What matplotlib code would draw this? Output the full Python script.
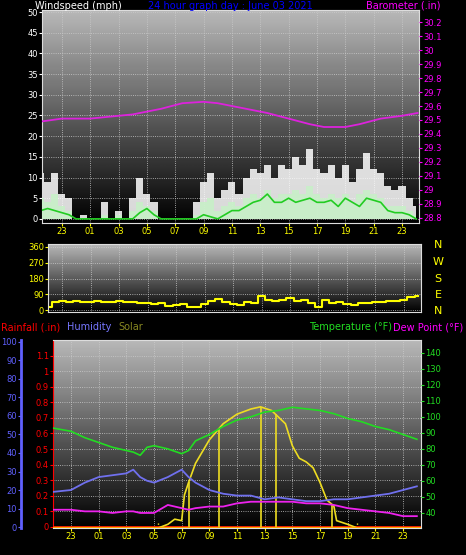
import numpy as np
from matplotlib import pyplot as plt

# wind, half-hourly from -2.5h (22:30 previous day) to 24h
wind_t = np.arange(-2.5, 24.01, 0.5)
gust = [11, 9, 11, 6, 5, 0, 1, 0, 0, 4, 0, 2, 0, 5, 10, 6, 4, 0, 0, 0, 0, 0, 4, 9, 11, 5, 7,
        9, 6, 10, 12, 11, 13, 10, 13, 12, 15, 13, 17, 12, 11, 13, 10, 13, 9, 12, 16, 12, 11,
        8, 7, 8, 5, 3]
speed = [5, 4, 6, 3, 2, 0, 0, 0, 0, 1, 0, 1, 0, 2, 4, 3, 2, 0, 0, 0, 0, 0, 1, 4, 5, 2, 3,
         4, 3, 5, 6, 5, 7, 5, 6, 6, 7, 6, 8, 6, 5, 6, 5, 6, 4, 6, 7, 6, 5, 3, 3, 3, 2, 1]
avg = [2, 2.5, 2, 1.5, 1, 0, 0, 0, 0, 0, 0, 0, 0, 0, 1.5, 2.5, 1, 0, 0, 0, 0, 0, 0, 1, 0.5, 0,
       1, 2, 2, 3, 4, 4.5, 6, 4, 4, 5, 4, 4.5, 5, 4, 4, 4.5, 3, 5, 4, 3, 5, 4.5, 4, 2, 1.5,
       1.5, 1, 0]

baro_t = [-2.4, -1, 1, 3, 4, 6, 7.5, 9, 10, 12, 13.5, 15, 16.5, 17.5, 19, 20, 21.5, 23, 24.1]
baro = [29.49, 29.51, 29.51, 29.53, 29.54, 29.58, 29.62, 29.63, 29.62, 29.58, 29.55, 29.51,
        29.47, 29.45, 29.45, 29.47, 29.51, 29.53, 29.55]

dir_t = np.arange(-2.0, 24.01, 0.5)
wdir = [20, 45, 50, 45, 50, 45, 45, 50, 45, 45, 50, 45, 45, 40, 40, 35, 40, 25, 30, 35, 20,
        20, 35, 50, 65, 45, 35, 30, 45, 40, 80, 60, 50, 55, 70, 50, 60, 40, 20, 55, 40, 45, 35,
        30, 40, 40, 45, 45, 50, 50, 55, 75, 80]

temp_t = [-2.3, -1, 0, 1, 2, 3, 3.5, 4, 4.5, 5, 6, 7, 7.5, 8, 9, 10, 11, 12, 13, 14, 15, 16,
          17, 18, 19, 20, 21, 22, 23, 24]
temp = [93, 91, 87, 84, 81, 79, 78, 76, 81, 82, 80, 77, 79, 85, 89, 94, 98, 100, 103, 104,
        106, 105, 104, 102, 99, 97, 94, 92, 89, 86]
hum = [19, 20, 24, 27, 28, 29, 31, 27, 25, 24, 27, 31, 27, 24, 20, 18, 17, 17, 15, 16, 15,
       14, 14, 15, 15, 16, 17, 18, 20, 22]
dew = [42, 42, 41, 41, 40, 41, 41, 40, 40, 40, 45, 43, 42, 43, 44, 44, 46, 47, 47, 47, 47,
       46, 46, 45, 43, 42, 41, 40, 38, 38]

solar_t = [5.3, 6, 6.5, 7, 7.2, 7.5, 8, 9, 10, 11, 12, 12.7, 13.5, 14.5, 15, 15.5, 16, 16.5,
           17, 17.5, 18, 18.2, 19, 19.7]
solar = [0, 25, 60, 50, 225, 310, 440, 600, 710, 775, 810, 825, 800, 710, 560, 475, 450, 410,
         310, 190, 150, 50, 25, 0]
solar_marks = [7.5, 9.7, 12.7, 13.8, 17.9]

hour_ticks = list(range(-1, 24, 2))
hour_labels = ['%02d' % (h % 24) for h in hour_ticks]

W, H = 466, 555
fig = plt.figure(figsize=(W / 100, H / 100), dpi=100, facecolor='black')


def box(x0, y0, x1, y1):
    return [x0 / W, 1 - y1 / H, (x1 - x0) / W, (y1 - y0) / H]


grad = np.linspace(0, 0.72, 100).reshape(-1, 1)


def setup(ax):
    ax.imshow(grad, extent=[0, 1, 0, 1], transform=ax.transAxes, aspect='auto',
              cmap='gray', vmin=0, vmax=1, origin='lower', zorder=0)
    ax.grid(True, color='#cccccc', linestyle=':', linewidth=0.6)
    for s in ax.spines.values():
        s.set_color('#dddddd')
    ax.tick_params(labelsize=6, length=2, pad=1)


# top panel
ax1 = fig.add_axes(box(42, 10, 419, 223))
setup(ax1)
ax1.fill_between(wind_t, gust, step='mid', color='white', alpha=0.85, lw=0, zorder=2)
ax1.fill_between(wind_t, speed, step='mid', color='#c8f0c8', alpha=0.9, lw=0, zorder=3)
ax1.plot(wind_t, avg, color='#22cc22', lw=1.2, zorder=4)
ax1.set_xlim(-2.4, 24.2)
ax1.set_ylim(-1, 50.5)
ax1.set_yticks(range(0, 51, 5))
ax1.set_xticks(hour_ticks)
ax1.set_xticklabels(hour_labels)
ax1.tick_params(axis='x', colors='yellow')
ax1.tick_params(axis='y', colors='white')
axb = ax1.twinx()
axb.plot(baro_t, baro, color='#dd22dd', lw=1.3)
axb.set_ylim(28.764, 30.286)
axb.set_yticks(np.round(np.arange(28.8, 30.21, 0.1), 1))
axb.set_yticklabels(['%g' % v for v in np.round(np.arange(28.8, 30.21, 0.1), 1)])
axb.tick_params(colors='magenta', labelsize=6, length=2, pad=1)
for s in axb.spines.values():
    s.set_visible(False)

fig.text(35 / W, 1 - 6 / H, 'Windspeed (mph)', color='white', fontsize=7, va='center')
fig.text(230 / W, 1 - 6 / H, '24 hour graph day : June 03 2021', color='blue',
         fontsize=7, va='center', ha='center')
fig.text(440 / W, 1 - 6 / H, 'Barometer (.in)', color='magenta', fontsize=7,
         va='center', ha='right')

# middle panel
ax2 = fig.add_axes(box(48, 244, 421, 312))
setup(ax2)
ax2.step(dir_t, wdir, where='mid', color='yellow', lw=1.5)
ax2.set_xlim(-2.0, 24.2)
ax2.set_ylim(-11, 377)
ax2.set_yticks([0, 90, 180, 270, 360])
ax2.set_xticks(hour_ticks)
ax2.set_xticklabels([])
ax2.tick_params(axis='y', colors='yellow')
ax2.tick_params(axis='x', length=0)
for lab, yy in zip('NWSEN', [245, 262, 279, 295, 311]):
    fig.text(438 / W, 1 - yy / H, lab, color='yellow', fontsize=8, ha='center', va='center')

# bottom panel
ax3 = fig.add_axes(box(53, 340, 421, 528))
setup(ax3)
ax3.set_xlim(-2.3, 24.3)
ax3.set_ylim(0 - 1 / 155, 1.2)
ax3.set_yticks(np.round(np.arange(0, 1.11, 0.1), 1))
ax3.set_yticklabels(['%g' % v for v in np.round(np.arange(0, 1.11, 0.1), 1)])
ax3.tick_params(axis='y', colors='red')
ax3.spines['left'].set_color('red')
ax3.set_xticks(hour_ticks)
ax3.set_xticklabels(hour_labels)
ax3.tick_params(axis='x', colors='yellow')
ax3.axhline(0, color='red', lw=2, zorder=5)

axs = ax3.twinx()
axs.set_ylim(0, 1280)
axs.plot(solar_t, solar, color='#eedd22', lw=1.2)
axs.vlines(solar_marks, 0, np.interp(solar_marks, solar_t, solar), color='#eedd22', lw=1.2)
axs.vlines([solar_t[0], solar_t[-1]], 0, 45, color='#eedd22', lw=1, linestyles=':')
axs.axhline(4, color='orange', lw=1)
axs.set_yticks([])
for s in axs.spines.values():
    s.set_visible(False)

axh = ax3.twinx()
axh.plot(temp_t, hum, color='#7070ee', lw=1.3)
axh.set_ylim(-0.5, 101)
axh.set_yticks(range(0, 101, 10))
axh.yaxis.set_ticks_position('left')
axh.spines['left'].set_position(('outward', 23))
axh.spines['left'].set_visible(True)
axh.spines['left'].set_color('#6060ff')
axh.spines['left'].set_linewidth(2)
for k in ['right', 'top', 'bottom']:
    axh.spines[k].set_visible(False)
axh.tick_params(colors='#6060ff', labelsize=6, length=2, pad=1)

axt = ax3.twinx()
axt.plot(temp_t, temp, color='#22dd22', lw=1.2)
axt.plot(temp_t, dew, color='#ee22ee', lw=1.3)
axt.set_ylim(30.6, 148)
axt.set_yticks(range(40, 141, 10))
for s in axt.spines.values():
    s.set_visible(False)
axt.tick_params(colors='#22dd22', labelsize=6, length=2, pad=1)

yl = 1 - 327 / H
fig.text(1 / W, yl, 'Rainfall (.in)', color='red', fontsize=7, va='center')
fig.text(67 / W, yl, 'Humidity', color='#7777ff', fontsize=7, va='center')
fig.text(118 / W, yl, 'Solar', color='#888822', fontsize=7, va='center')
fig.text(392 / W, yl, 'Temperature (°F)', color='#22dd22', fontsize=7, va='center', ha='right')
fig.text(393 / W, yl, 'Dew Point (°F)', color='magenta', fontsize=7, va='center')

fig.savefig('out.png', dpi=100, facecolor='black')
